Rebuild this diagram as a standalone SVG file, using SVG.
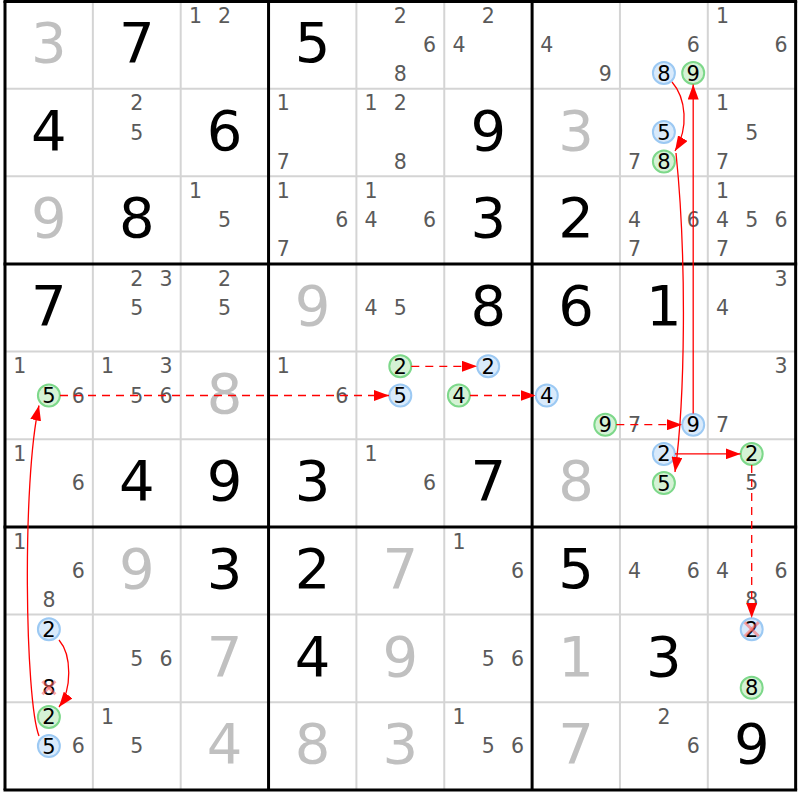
<svg xmlns="http://www.w3.org/2000/svg" width="800" height="800" viewBox="0 0 800 800">
<defs>
<style>
text{font-family:"DejaVu Sans","Liberation Sans",sans-serif;text-anchor:middle}
.b{font-size:56px;fill:#000}
.g{font-size:56px;fill:#c0c0c0}
.c{font-size:20.5px;fill:#5a5a5a}
.k{font-size:21px;fill:#000}
.cb{fill:#d9eafb;stroke:#9cc9f3;stroke-width:2}
.cg{fill:#d5f2d5;stroke:#7dd88a;stroke-width:2}
.thin{stroke:#d4d4d4;stroke-width:2}
.thick{stroke:#000;stroke-width:3}
.x{stroke:#ff6060;stroke-opacity:0.55;stroke-width:3}
.ln{fill:none;stroke:#ff0000;stroke-width:1.3;marker-end:url(#ah)}
.d{stroke-dasharray:8,6}
</style>
<marker id="ah" viewBox="0 0 15 11" refX="15" refY="5.5" markerWidth="15" markerHeight="11" markerUnits="userSpaceOnUse" orient="auto">
<path d="M0,0 L15,5.5 L0,11 z" fill="#ff0000"/>
</marker>
</defs>
<rect x="0" y="0" width="800" height="800" fill="#fff"/>
<g id="grid-thin">
<line class="thin" x1="92.85" y1="1" x2="92.85" y2="790"/>
<line class="thin" x1="180.7" y1="1" x2="180.7" y2="790"/>
<line class="thin" x1="356.4" y1="1" x2="356.4" y2="790"/>
<line class="thin" x1="444.25" y1="1" x2="444.25" y2="790"/>
<line class="thin" x1="619.95" y1="1" x2="619.95" y2="790"/>
<line class="thin" x1="707.8" y1="1" x2="707.8" y2="790"/>
<line class="thin" x1="5" y1="88.66" x2="795.65" y2="88.66"/>
<line class="thin" x1="5" y1="176.3" x2="795.65" y2="176.3"/>
<line class="thin" x1="5" y1="351.6" x2="795.65" y2="351.6"/>
<line class="thin" x1="5" y1="439.3" x2="795.65" y2="439.3"/>
<line class="thin" x1="5" y1="614.6" x2="795.65" y2="614.6"/>
<line class="thin" x1="5" y1="702.3" x2="795.65" y2="702.3"/>
</g>
<g id="r0c0"><text class="g" x="48.9" y="61.8">3</text></g>
<g id="r0c1"><text class="b" x="136.8" y="61.8">7</text></g>
<g id="r0c2"><text class="c" x="195.4" y="22.6">1</text><text class="c" x="224.6" y="22.6">2</text></g>
<g id="r0c3"><text class="b" x="312.5" y="61.8">5</text></g>
<g id="r0c4"><text class="c" x="400.3" y="22.6">2</text><text class="c" x="429.6" y="51.8">6</text><text class="c" x="400.3" y="81.1">8</text></g>
<g id="r0c5"><text class="c" x="488.2" y="22.6">2</text><text class="c" x="458.9" y="51.8">4</text></g>
<g id="r0c6"><text class="c" x="546.8" y="51.8">4</text><text class="c" x="605.3" y="81.1">9</text></g>
<g id="r0c7"><text class="c" x="693.2" y="51.8">6</text><circle class="cb" cx="663.9" cy="73" r="11"/><text class="k" x="663.9" y="80.5">8</text><circle class="cg" cx="693.2" cy="73" r="11"/><text class="k" x="693.2" y="80.5">9</text></g>
<g id="r0c8"><text class="c" x="722.5" y="22.6">1</text><text class="c" x="781" y="51.8">6</text></g>

<g id="r1c0"><text class="b" x="48.9" y="149.5">4</text></g>
<g id="r1c1"><text class="c" x="136.8" y="110.3">2</text><text class="c" x="136.8" y="139.5">5</text></g>
<g id="r1c2"><text class="b" x="224.6" y="149.5">6</text></g>
<g id="r1c3"><text class="c" x="283.2" y="110.3">1</text><text class="c" x="283.2" y="168.7">7</text></g>
<g id="r1c4"><text class="c" x="371.1" y="110.3">1</text><text class="c" x="400.3" y="110.3">2</text><text class="c" x="400.3" y="168.7">8</text></g>
<g id="r1c5"><text class="b" x="488.2" y="149.5">9</text></g>
<g id="r1c6"><text class="g" x="576" y="149.5">3</text></g>
<g id="r1c7"><circle class="cb" cx="663.9" cy="132" r="11"/><text class="k" x="663.9" y="139.5">5</text><text class="c" x="634.6" y="168.7">7</text><circle class="cg" cx="663.9" cy="161.5" r="11"/><text class="k" x="663.9" y="169">8</text></g>
<g id="r1c8"><text class="c" x="722.5" y="110.3">1</text><text class="c" x="751.7" y="139.5">5</text><text class="c" x="722.5" y="168.7">7</text></g>

<g id="r2c0"><text class="g" x="48.9" y="237.2">9</text></g>
<g id="r2c1"><text class="b" x="136.8" y="237.2">8</text></g>
<g id="r2c2"><text class="c" x="195.4" y="197.9">1</text><text class="c" x="224.6" y="227.2">5</text></g>
<g id="r2c3"><text class="c" x="283.2" y="197.9">1</text><text class="c" x="341.8" y="227.2">6</text><text class="c" x="283.2" y="256.4">7</text></g>
<g id="r2c4"><text class="c" x="371.1" y="197.9">1</text><text class="c" x="371.1" y="227.2">4</text><text class="c" x="429.6" y="227.2">6</text></g>
<g id="r2c5"><text class="b" x="488.2" y="237.2">3</text></g>
<g id="r2c6"><text class="b" x="576" y="237.2">2</text></g>
<g id="r2c7"><text class="c" x="634.6" y="227.2">4</text><text class="c" x="693.2" y="227.2">6</text><text class="c" x="634.6" y="256.4">7</text></g>
<g id="r2c8"><text class="c" x="722.5" y="197.9">1</text><text class="c" x="722.5" y="227.2">4</text><text class="c" x="751.7" y="227.2">5</text><text class="c" x="781" y="227.2">6</text><text class="c" x="722.5" y="256.4">7</text></g>

<g id="r3c0"><text class="b" x="48.9" y="324.8">7</text></g>
<g id="r3c1"><text class="c" x="136.8" y="285.6">2</text><text class="c" x="166.1" y="285.6">3</text><text class="c" x="136.8" y="314.8">5</text></g>
<g id="r3c2"><text class="c" x="224.6" y="285.6">2</text><text class="c" x="224.6" y="314.8">5</text></g>
<g id="r3c3"><text class="g" x="312.5" y="324.8">9</text></g>
<g id="r3c4"><text class="c" x="371.1" y="314.8">4</text><text class="c" x="400.3" y="314.8">5</text></g>
<g id="r3c5"><text class="b" x="488.2" y="324.8">8</text></g>
<g id="r3c6"><text class="b" x="576" y="324.8">6</text></g>
<g id="r3c7"><text class="b" x="663.9" y="324.8">1</text></g>
<g id="r3c8"><text class="c" x="781" y="285.6">3</text><text class="c" x="722.5" y="314.8">4</text></g>

<g id="r4c0"><text class="c" x="19.7" y="373.3">1</text><circle class="cg" cx="48.9" cy="395.5" r="11"/><text class="k" x="48.9" y="403">5</text><text class="c" x="78.2" y="402.5">6</text></g>
<g id="r4c1"><text class="c" x="107.5" y="373.3">1</text><text class="c" x="166.1" y="373.3">3</text><text class="c" x="136.8" y="402.5">5</text><text class="c" x="166.1" y="402.5">6</text></g>
<g id="r4c2"><text class="g" x="224.6" y="412.5">8</text></g>
<g id="r4c3"><text class="c" x="283.2" y="373.3">1</text><text class="c" x="341.8" y="402.5">6</text></g>
<g id="r4c4"><circle class="cg" cx="400.3" cy="366.3" r="11"/><text class="k" x="400.3" y="373.8">2</text><circle class="cb" cx="400.3" cy="395.5" r="11"/><text class="k" x="400.3" y="403">5</text></g>
<g id="r4c5"><circle class="cb" cx="488.2" cy="366.3" r="11"/><text class="k" x="488.2" y="373.8">2</text><circle class="cg" cx="458.9" cy="395.5" r="11"/><text class="k" x="458.9" y="403">4</text></g>
<g id="r4c6"><circle class="cb" cx="546.8" cy="395.5" r="11"/><text class="k" x="546.8" y="403">4</text><circle class="cg" cx="605.3" cy="424.7" r="11"/><text class="k" x="605.3" y="432.2">9</text></g>
<g id="r4c7"><text class="c" x="634.6" y="431.7">7</text><circle class="cb" cx="693.2" cy="424.7" r="11"/><text class="k" x="693.2" y="432.2">9</text></g>
<g id="r4c8"><text class="c" x="781" y="373.3">3</text><text class="c" x="722.5" y="431.7">7</text></g>

<g id="r5c0"><text class="c" x="19.7" y="460.9">1</text><text class="c" x="78.2" y="490.1">6</text></g>
<g id="r5c1"><text class="b" x="136.8" y="500.1">4</text></g>
<g id="r5c2"><text class="b" x="224.6" y="500.1">9</text></g>
<g id="r5c3"><text class="b" x="312.5" y="500.1">3</text></g>
<g id="r5c4"><text class="c" x="371.1" y="460.9">1</text><text class="c" x="429.6" y="490.1">6</text></g>
<g id="r5c5"><text class="b" x="488.2" y="500.1">7</text></g>
<g id="r5c6"><text class="g" x="576" y="500.1">8</text></g>
<g id="r5c7"><circle class="cb" cx="663.9" cy="453.9" r="11"/><text class="k" x="663.9" y="461.4">2</text><circle class="cg" cx="663.9" cy="483.1" r="11"/><text class="k" x="663.9" y="490.6">5</text></g>
<g id="r5c8"><circle class="cg" cx="751.7" cy="453.9" r="11"/><text class="k" x="751.7" y="461.4">2</text><text class="c" x="751.7" y="490.1">5</text></g>

<g id="r6c0"><text class="c" x="19.7" y="548.6">1</text><text class="c" x="78.2" y="577.8">6</text><text class="c" x="48.9" y="607">8</text></g>
<g id="r6c1"><text class="g" x="136.8" y="587.8">9</text></g>
<g id="r6c2"><text class="b" x="224.6" y="587.8">3</text></g>
<g id="r6c3"><text class="b" x="312.5" y="587.8">2</text></g>
<g id="r6c4"><text class="g" x="400.3" y="587.8">7</text></g>
<g id="r6c5"><text class="c" x="458.9" y="548.6">1</text><text class="c" x="517.5" y="577.8">6</text></g>
<g id="r6c6"><text class="b" x="576" y="587.8">5</text></g>
<g id="r6c7"><text class="c" x="634.6" y="577.8">4</text><text class="c" x="693.2" y="577.8">6</text></g>
<g id="r6c8"><text class="c" x="722.5" y="577.8">4</text><text class="c" x="781" y="577.8">6</text><text class="c" x="751.7" y="607">8</text></g>

<g id="r7c0"><circle class="cb" cx="48.9" cy="629.2" r="11"/><text class="k" x="48.9" y="636.7">2</text><text class="k" x="48.9" y="695.2">8</text><line class="x" x1="42.4" y1="681.2" x2="55.4" y2="694.2"/><line class="x" x1="42.4" y1="694.2" x2="55.4" y2="681.2"/></g>
<g id="r7c1"><text class="c" x="136.8" y="665.5">5</text><text class="c" x="166.1" y="665.5">6</text></g>
<g id="r7c2"><text class="g" x="224.6" y="675.5">7</text></g>
<g id="r7c3"><text class="b" x="312.5" y="675.5">4</text></g>
<g id="r7c4"><text class="g" x="400.3" y="675.5">9</text></g>
<g id="r7c5"><text class="c" x="488.2" y="665.5">5</text><text class="c" x="517.5" y="665.5">6</text></g>
<g id="r7c6"><text class="g" x="576" y="675.5">1</text></g>
<g id="r7c7"><text class="b" x="663.9" y="675.5">3</text></g>
<g id="r7c8"><circle class="cb" cx="751.7" cy="629.2" r="11"/><text class="k" x="751.7" y="636.7">2</text><line class="x" x1="744.7" y1="622.2" x2="758.7" y2="636.2"/><line class="x" x1="744.7" y1="636.2" x2="758.7" y2="622.2"/><circle class="cg" cx="751.7" cy="687.7" r="11"/><text class="k" x="751.7" y="695.2">8</text></g>

<g id="r8c0"><circle class="cg" cx="48.9" cy="716.9" r="11"/><text class="k" x="48.9" y="724.4">2</text><circle class="cb" cx="48.9" cy="746.1" r="11"/><text class="k" x="48.9" y="753.6">5</text><text class="c" x="78.2" y="753.1">6</text></g>
<g id="r8c1"><text class="c" x="107.5" y="723.9">1</text><text class="c" x="136.8" y="753.1">5</text></g>
<g id="r8c2"><text class="g" x="224.6" y="763.1">4</text></g>
<g id="r8c3"><text class="g" x="312.5" y="763.1">8</text></g>
<g id="r8c4"><text class="g" x="400.3" y="763.1">3</text></g>
<g id="r8c5"><text class="c" x="458.9" y="723.9">1</text><text class="c" x="488.2" y="753.1">5</text><text class="c" x="517.5" y="753.1">6</text></g>
<g id="r8c6"><text class="g" x="576" y="763.1">7</text></g>
<g id="r8c7"><text class="c" x="663.9" y="723.9">2</text><text class="c" x="693.2" y="753.1">6</text></g>
<g id="r8c8"><text class="b" x="751.7" y="763.1">9</text></g>

<g id="grid-thick">
<line class="thick" x1="5" y1="1" x2="5" y2="790"/>
<line class="thick" x1="268.55" y1="1" x2="268.55" y2="790"/>
<line class="thick" x1="532.1" y1="1" x2="532.1" y2="790"/>
<line class="thick" x1="795.65" y1="1" x2="795.65" y2="790"/>
<line class="thick" x1="3.5" y1="1.5" x2="797.15" y2="1.5"/>
<line class="thick" x1="3.5" y1="264" x2="797.15" y2="264"/>
<line class="thick" x1="3.5" y1="527" x2="797.15" y2="527"/>
<line class="thick" x1="3.5" y1="790" x2="797.15" y2="790"/>
</g>
<g id="connectors">
<path class="ln d" d="M60,395.5 H389"/>
<path class="ln d" d="M411.3,366.3 H477"/>
<path class="ln d" d="M470,395.5 H535.5"/>
<path class="ln d" d="M616.3,424.7 H682"/>
<path class="ln" d="M693.2,413.5 V84.5"/>
<path class="ln" d="M672,82 C686,98 689,128 675,151"/>
<path class="ln" d="M676,153 C687,260 685,400 675,472"/>
<path class="ln" d="M675,453.9 H740.5"/>
<path class="ln d" d="M751.7,465 V618"/>
<path class="ln" d="M59,640 C72,655 72,690 59,707"/>
<path class="ln" d="M39,736 C25,700 22,480 39,405.5"/>
</g>
</svg>
